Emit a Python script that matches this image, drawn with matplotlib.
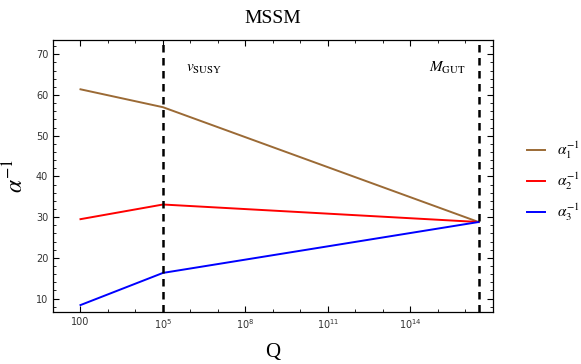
import numpy as np
import matplotlib
matplotlib.use("Agg")
import matplotlib.pyplot as plt
import matplotlib.ticker as ticker

plt.rcParams["mathtext.fontset"] = "stix"

# Scale points (GeV): electroweak, SUSY, GUT
q_points = [1e2, 1e5, 3e16]
q_susy = 1e5
q_gut = 3e16

alpha1_inv = [61.4, 57.0, 28.8]
alpha2_inv = [29.5, 33.1, 28.8]
alpha3_inv = [8.4, 16.3, 28.8]

labels = [r"$\alpha_1^{-1}$", r"$\alpha_2^{-1}$", r"$\alpha_3^{-1}$"]
colors = ["#9b6a35", "#ff0000", "#0000ff"]

fig = plt.figure(figsize=(5.81, 3.64), dpi=100)
ax = fig.add_axes([0.0912, 0.1429, 0.7573, 0.7471])

for vals, lab, col in zip([alpha1_inv, alpha2_inv, alpha3_inv], labels, colors):
    ax.plot(q_points, vals, color=col, lw=1.4, label=lab)

ax.axvline(q_susy, color="black", lw=1.8, ls=(0, (3, 2.2)))
ax.axvline(q_gut, color="black", lw=1.8, ls=(0, (3, 2.2)))

ax.set_xscale("log")
ax.set_xlim(10, 1e17)
ax.set_ylim(6.7, 73.5)

ax.xaxis.set_major_locator(ticker.FixedLocator([1e2, 1e5, 1e8, 1e11, 1e14]))
ax.xaxis.set_major_formatter(ticker.FixedFormatter(
    ["100", r"$10^5$", r"$10^8$", r"$10^{11}$", r"$10^{14}$"]))
ax.xaxis.set_minor_locator(ticker.FixedLocator([10.0 ** k for k in range(1, 18)]))
ax.xaxis.set_minor_formatter(ticker.NullFormatter())
ax.yaxis.set_major_locator(ticker.MultipleLocator(10))
ax.yaxis.set_minor_locator(ticker.MultipleLocator(2))

ax.tick_params(which="both", direction="in", top=True, right=True, labelsize=7,
               colors="black", labelcolor="#333333")
ax.tick_params(which="major", length=4, width=0.8)
ax.tick_params(which="minor", length=2.2, width=0.6)
for lab in ax.get_xticklabels() + ax.get_yticklabels():
    lab.set_fontfamily("DejaVu Sans")
    lab.set_math_fontfamily("dejavusans")
for sp in ax.spines.values():
    sp.set_linewidth(0.9)

ax.text(7e5, 66.6, r"$v_{\mathrm{SUSY}}$", fontsize=11, ha="left", va="center")
ax.text(1e16, 66.6, r"$M_{\mathrm{GUT}}$", fontsize=11, ha="right", va="center")

ax.set_title("MSSM", fontsize=14, family="Liberation Serif", pad=12)
ax.set_xlabel("Q", fontsize=15, family="Liberation Serif", labelpad=9)
ax.set_ylabel(r"$\alpha^{-1}$", fontsize=17)
ax.yaxis.set_label_coords(-0.057, 0.5)

ax.legend(loc="center left", bbox_to_anchor=(1.077, 0.48), frameon=False,
          fontsize=11, handlelength=1.2, labelspacing=0.62, handletextpad=0.8,
          borderaxespad=0, borderpad=0)

fig.savefig("out.png", dpi=100)
